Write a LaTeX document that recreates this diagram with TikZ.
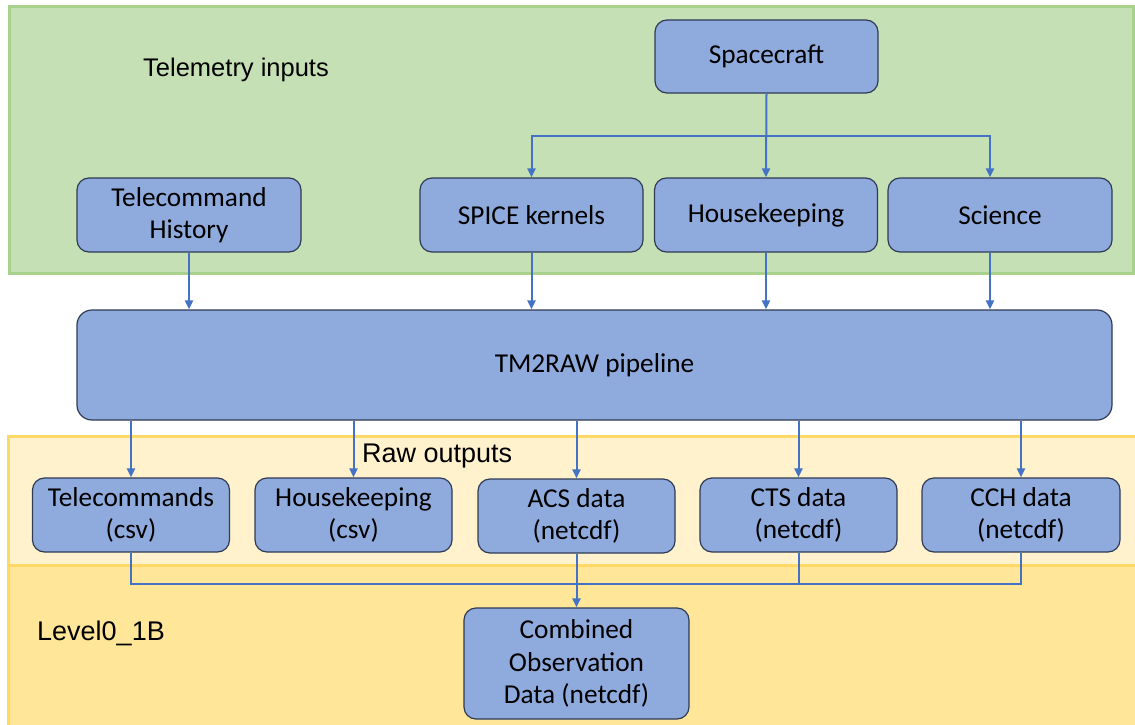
\documentclass[tikz,border=0pt]{standalone}
\usepackage{fontspec}
\setmainfont{Carlito}
\newfontfamily\arialf{Liberation Sans}
\usetikzlibrary{arrows.meta,calc}
\definecolor{boxfill}{HTML}{8FAADC}
\definecolor{boxline}{HTML}{2F3B55}
\definecolor{arrowc}{HTML}{4472C4}
\definecolor{greenfill}{HTML}{C5E0B4}
\definecolor{greenline}{HTML}{A9D18E}
\definecolor{rawfill}{HTML}{FFF2CC}
\definecolor{lvlfill}{HTML}{FFE699}
\definecolor{yelline}{HTML}{FFD966}
\begin{document}
\begin{tikzpicture}[x=1pt,y=-1pt,
 box/.style={draw=boxline, fill=boxfill, line width=1.2pt, rounded corners=12pt, align=center,
   font=\fontsize{27.3}{32.5}\selectfont, inner sep=0pt, minimum height=74pt},
 conn/.style={draw=arrowc, line width=2pt},
 arr/.style={conn, -{Triangle[length=9pt,width=8pt]}},
 paneltitle/.style={font=\arialf\fontsize{26}{30}\selectfont, anchor=base west, inner sep=0pt}]
\useasboundingbox (0,0) rectangle (1135,725);
\fill[white] (0,0) rectangle (1135,725);
% panels
\draw[greenline, fill=greenfill, line width=3pt] (9,7) rectangle (1133,273);
\draw[yelline, fill=lvlfill, line width=3pt] (8,565) rectangle (1140,730);
\draw[yelline, fill=rawfill, line width=3pt] (8,436) rectangle (1140,565);
\node[paneltitle, font=\arialf\fontsize{25.5}{30}\selectfont] (tlab) at (143,77) {Telemetry inputs};
\node[paneltitle, font=\arialf\fontsize{27}{30}\selectfont] (rlab) at (362,462) {Raw outputs};
\node[paneltitle, font=\arialf\fontsize{27}{30}\selectfont] (llab) at (37,640) {Level0\_1B};
% top nodes
\node[box, minimum width=223pt, minimum height=73pt] (sc) at (766.5,56.5) {Spacecraft};
\node[box, minimum width=224pt] (tch) at (189,215) {Telecommand\\History};
\node[box, minimum width=223pt] (spice) at (531.5,215) {SPICE kernels};
\node[box, minimum width=223pt] (hk) at (766,215) {Housekeeping};
\node[box, minimum width=224pt] (sci) at (1000,215) {Science};
% pipeline
\node[box, minimum width=1035pt, minimum height=110pt, rounded corners=15pt] (tm) at (594.5,365) {TM2RAW pipeline};
% raw outputs
\node[box, minimum width=197pt] (tc) at (131,515) {Telecommands\\(csv)};
\node[box, minimum width=197pt] (hkr) at (353.5,515) {Housekeeping\\(csv)};
\node[box, minimum width=197pt] (acs) at (576.5,516) {ACS data\\(netcdf)};
\node[box, minimum width=197pt] (cts) at (798.5,515) {CTS data\\(netcdf)};
\node[box, minimum width=198pt] (cch) at (1021,515) {CCH data\\(netcdf)};
% combined
\node[box, minimum width=225pt, minimum height=111pt] (comb) at (576.5,663.5) {Combined\\Observation\\Data (netcdf)};
% connectors top
\coordinate (br) at (766.5,136);
\coordinate (bus) at (0,584);
\draw[arr] (sc.south) -- (hk.north);
\draw[arr] (br) -| (spice.north);
\draw[arr] (br) -| ([xshift=-10pt]sci.north);
\draw[arr] (tch.south) -- (tch.south |- tm.north);
\draw[arr] (spice.south) -- (spice.south |- tm.north);
\draw[arr] (hk.south) -- (hk.south |- tm.north);
\draw[arr] ([xshift=-10pt]sci.south) -- ([xshift=-10pt]sci.south |- tm.north);
% pipeline to raw
\draw[arr] (tm.south -| tc.north) -- (tc.north);
\draw[arr] (tm.south -| hkr.north) -- (hkr.north);
\draw[arr] (tm.south -| acs.north) -- (acs.north);
\draw[arr] (tm.south -| cts.north) -- (cts.north);
\draw[arr] (tm.south -| cch.north) -- (cch.north);
% bottom bus
\draw[conn] (tc.south) -- (tc.south |- bus) -- (cch.south |- bus) -- (cch.south);
\draw[conn] (cts.south) -- (cts.south |- bus);
\draw[arr] (acs.south) -- (comb.north);
\end{tikzpicture}
\end{document}
